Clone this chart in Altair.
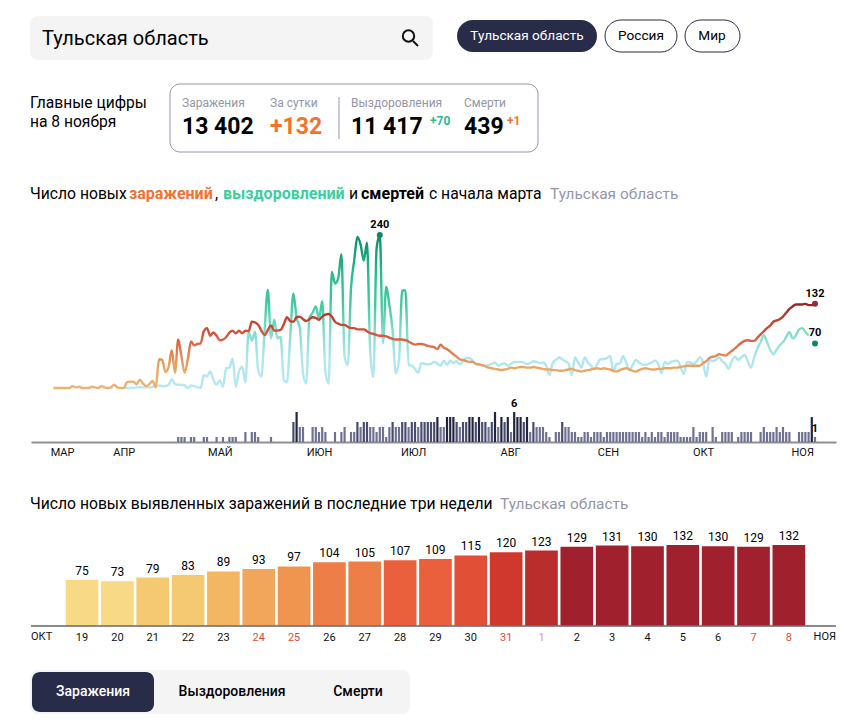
import altair as alt
import pandas as pd

FONT = "Roboto"
INK = "#000000"
NAVY = "#282c48"
GREY = "#9496a8"
PANEL = "#f4f4f4"

infections = [
    0,0,0,0,0,0,3,1,2,0,
    0,0,2,1,0,3,1,0,1,5,
    1,0,0,9,10,10,6,13,7,3,
    6,11,1,45,44,25,33,59,24,76,
    50,24,45,73,67,69,70,89,94,82,
    87,82,75,76,80,87,90,86,90,86,
    90,89,104,103,99,90,83,91,98,90,
    90,91,100,111,105,104,111,112,108,105,
    108,111,110,107,112,115,116,112,104,101,
    99,99,96,94,94,92,92,92,89,86,
    85,83,82,82,81,79,77,76,76,76,
    75,73,70,68,69,69,68,66,65,64,
    61,68,63,61,57,53,49,45,44,42,
    41,41,38,37,36,34,32,31,30,29,
    28,29,30,32,31,32,33,33,32,32,
    33,32,31,30,29,29,28,28,27,27,
    28,29,30,28,27,26,27,28,29,30,
    31,30,31,30,29,27,26,28,30,31,
    29,27,26,28,30,31,30,29,29,30,
    30,31,31,31,32,32,33,34,35,35,
    35,35,35,39,42,47,49,50,53,52,
    51,54,58,62,67,71,74,75,74,74,
    79,84,89,94,98,104,106,108,112,118,
    124,128,131,131,131,132,130,130,132,
]
recoveries_start = 22
recoveries = [
    0,0,0,0,1,1,1,1,
    1,2,3,4,3,3,5,14,6,5,
    5,4,0,4,3,1,0,20,18,26,
    13,5,12,2,31,32,46,2,26,33,
    9,88,74,88,27,18,90,154,78,107,
    78,80,12,9,80,148,110,95,23,7,
    109,118,128,109,136,25,7,182,164,172,
    210,49,36,156,200,237,225,200,228,57,
    17,219,240,70,159,130,90,23,44,153,
    153,36,35,30,24,39,38,37,38,41,
    38,35,43,36,43,39,42,37,42,47,
    47,43,38,37,35,35,36,38,40,35,
    37,39,35,38,41,41,41,40,37,39,
    42,41,39,40,35,20,39,44,48,45,
    42,38,20,48,40,32,48,40,35,30,
    38,45,45,47,50,26,38,38,50,40,
    28,36,44,40,37,36,38,40,43,38,
    23,41,38,41,42,43,33,22,41,40,
    38,42,48,40,18,44,42,44,48,42,
    38,30,42,49,44,48,52,42,32,48,
    62,72,83,72,60,53,60,67,72,80,
    88,78,82,92,94,88,82,
]
deaths = [
    0,0,0,0,0,0,0,0,0,0,
    0,0,0,0,0,0,0,0,0,0,
    0,0,0,0,0,0,0,0,0,0,
    0,0,0,0,0,0,0,0,0,1,
    1,1,0,1,1,0,0,1,1,0,
    0,1,0,1,0,1,1,1,0,0,
    2,0,2,2,1,0,0,0,1,0,
    0,0,0,0,0,4,6,3,3,0,
    0,3,3,2,3,2,0,0,2,0,
    2,3,0,2,2,4,3,4,4,3,
    3,2,3,3,1,3,4,3,3,4,
    4,3,4,4,3,4,4,4,4,4,
    5,3,3,5,5,5,4,3,4,4,
    5,5,4,5,4,4,3,4,6,3,
    5,4,5,2,6,5,5,4,5,2,
    4,3,3,3,2,1,0,2,2,4,
    3,3,2,2,1,1,2,2,1,2,
    2,2,1,2,2,2,2,2,2,2,
    2,2,2,2,1,2,1,2,1,2,
    2,1,2,2,2,2,1,1,1,1,
    3,1,2,2,2,0,3,1,0,2,
    2,2,2,0,1,2,2,2,2,0,
    0,2,3,2,2,2,3,2,3,2,
    2,0,0,2,2,2,2,5,1,
]
month_labels = ["МАР", "АПР", "МАЙ", "ИЮН", "ИЮЛ", "АВГ", "СЕН", "ОКТ", "НОЯ"]
month_ticks = [2.7, 22.0, 52.0, 83.0, 112.4, 142.7, 173.3, 203.0, 234.0]

recent_days = [19,20,21,22,23,24,25,26,27,28,29,30,31,1,2,3,4,5,6,7,8]
recent_values = [75,73,79,83,89,93,97,104,105,107,109,115,120,123,129,131,130,132,130,129,132]
holidays = [24,25,31,7,8]

def page_x(x):
    return x - 8

def label(text, x, y, size, color=INK, weight="normal", align="left", top=8):
    return (
        alt.Chart(alt.Data(values=[{"t": text}]))
        .mark_text(font=FONT, fontSize=size, color=color, fontWeight=weight, align=align, baseline="middle")
        .encode(x=alt.value(page_x(x)), y=alt.value(y - top), text="t:N")
    )

def box(x0, y0, x1, y1, fill, top, stroke=None, radius=8):
    kw = {"stroke": stroke, "strokeWidth": 1} if stroke else {}
    return (
        alt.Chart(alt.Data(values=[{}]))
        .mark_rect(fill=fill, cornerRadius=radius, **kw)
        .encode(x=alt.value(page_x(x0)), x2=alt.value(page_x(x1)), y=alt.value(y0 - top), y2=alt.value(y1 - top))
    )

# ---- header panel
T1 = 8
magnifier = (
    alt.Chart(alt.Data(values=[{}]))
    .mark_point(shape="circle", filled=False, size=130, stroke="#111111", strokeWidth=2, opacity=1)
    .encode(x=alt.value(page_x(408.5)), y=alt.value(36 - T1))
)
handle = (
    alt.Chart(alt.Data(values=[{}]))
    .mark_rule(stroke="#111111", strokeWidth=2)
    .encode(x=alt.value(page_x(413)), x2=alt.value(page_x(418)), y=alt.value(41 - T1), y2=alt.value(46 - T1))
)
divider = (
    alt.Chart(alt.Data(values=[{}]))
    .mark_rule(stroke=GREY, strokeWidth=1)
    .encode(x=alt.value(page_x(339)), y=alt.value(97 - T1), y2=alt.value(139 - T1))
)
header = alt.layer(
    box(30, 16, 433, 60, PANEL, T1),
    label("Тульская область", 42, 38.5, 20, top=T1),
    magnifier, handle,
    box(457, 20, 597, 52, NAVY, T1, radius=16),
    label("Тульская область", 527, 36, 13.6, "#ffffff", align="center", top=T1),
    box(605, 20, 677, 52, "#ffffff", T1, stroke=NAVY, radius=16),
    label("Россия", 641, 36, 13.6, align="center", top=T1),
    box(685, 20, 740, 52, "#ffffff", T1, stroke=NAVY, radius=16),
    label("Мир", 712, 36, 13.6, align="center", top=T1),
    label("Главные цифры", 30, 103, 15.6, top=T1),
    label("на 8 ноября", 30, 122, 15.6, top=T1),
    box(170, 84, 538, 152, "#ffffff", T1, stroke=GREY, radius=10),
    divider,
    label("Заражения", 182, 103, 12, GREY, top=T1),
    label("За сутки", 270, 103, 12, GREY, top=T1),
    label("Выздоровления", 351, 103, 12, GREY, top=T1),
    label("Смерти", 464, 103, 12, GREY, top=T1),
    label("13 402", 182, 127, 23, weight="bold", top=T1),
    label("+132", 270, 127, 23, "#f4722b", weight="bold", top=T1),
    label("11 417", 351, 127, 23, weight="bold", top=T1),
    label("+70", 430, 121, 12, "#2fb98f", weight="bold", top=T1),
    label("439", 464, 127, 23, weight="bold", top=T1),
    label("+1", 507, 121, 12, "#f4722b", weight="bold", top=T1),
    label("Число новых", 30, 194, 15.7, top=T1),
    label("заражений", 129, 194, 16, "#f4722b", weight="bold", top=T1),
    label(",", 215, 194, 16, top=T1),
    label("выздоровлений", 223, 194, 16, "#3ccf9f", weight="bold", top=T1),
    label("и", 349, 194, 15.7, top=T1),
    label("смертей", 361, 194, 16, weight="bold", top=T1),
    label("с начала марта", 429, 194, 15.7, top=T1),
    label("Тульская область", 550, 194, 15.4, GREY, top=T1),
).properties(width=830, height=205)

# ---- main chart
T2 = 213
inf_df = pd.DataFrame({"day": range(len(infections)), "value": infections})
rec_df = pd.DataFrame({"day": range(recoveries_start, recoveries_start + len(recoveries)), "value": recoveries})
dea_df = pd.DataFrame({"day": range(len(deaths)), "value": deaths})
dea_df = dea_df[dea_df.value > 0]

x_main = alt.Scale(domain=[-7, 244.5625], range=[23, 828], nice=False, zero=False, padding=0)
y_line = alt.Scale(domain=[0, 240], range=[388 - T2, 235 - T2], nice=False)
y_bar = alt.Scale(domain=[0, 6], range=[442 - T2, 412 - T2], nice=False)
x_plain = alt.X("day:Q", scale=x_main, axis=None)

inf_grad = alt.Gradient(
    gradient="linear", x1=0, x2=0, y1=1, y2=0,
    stops=[
        alt.GradientStop(offset=0, color="#ecb26f"),
        alt.GradientStop(offset=0.25, color="#eba563"),
        alt.GradientStop(offset=0.45, color="#e07a50"),
        alt.GradientStop(offset=0.68, color="#cf4f38"),
        alt.GradientStop(offset=0.83, color="#c0402f"),
        alt.GradientStop(offset=1, color="#902630"),
    ],
)
rec_grad = alt.Gradient(
    gradient="linear", x1=0, x2=0, y1=1, y2=0,
    stops=[
        alt.GradientStop(offset=0, color="#b5e8f2"),
        alt.GradientStop(offset=0.2, color="#aee6ef"),
        alt.GradientStop(offset=0.375, color="#7fdcc9"),
        alt.GradientStop(offset=0.54, color="#42cc9e"),
        alt.GradientStop(offset=0.75, color="#2dba8c"),
        alt.GradientStop(offset=1, color="#0a8a62"),
    ],
)
death_bars = alt.Chart(dea_df).mark_bar(size=2.2).encode(
    x=alt.X(
        "day:Q", scale=x_main, title=None,
        axis=alt.Axis(
            values=month_ticks, ticks=False, grid=False, labelFont=FONT, labelFontSize=11, labelColor="#111111",
            labelPadding=4, domainColor="#8e8e98", domainWidth=2, labelOverlap=False, labelFlush=False,
            labelExpr="[" + ",".join(f"'{m}'" for m in month_labels) + "][indexof(" + str(month_ticks) + ", datum.value)]",
        ),
    ),
    y=alt.Y("value:Q", scale=y_bar, axis=None),
    color=alt.Color("value:Q", legend=None, scale=alt.Scale(type="threshold", domain=[4, 5], range=["#6e7192", "#494c6e", "#22253f"])),
)
peak_deaths = dea_df[dea_df.day.isin([144, 238])]
death_labels = alt.Chart(peak_deaths).mark_text(font=FONT, fontSize=11, fontWeight="bold", color=INK, baseline="bottom", dy=-3).encode(
    x=x_plain, y=alt.Y("value:Q", scale=y_bar, axis=None), text="value:Q"
)
rec_line = alt.Chart(rec_df).mark_line(stroke=rec_grad, strokeWidth=2.4, interpolate="monotone", strokeJoin="round").encode(
    x=x_plain, y=alt.Y("value:Q", scale=y_line, axis=None)
)
inf_line = alt.Chart(inf_df).mark_line(stroke=inf_grad, strokeWidth=2.4, interpolate="monotone", strokeJoin="round").encode(
    x=x_plain, y=alt.Y("value:Q", scale=y_line, axis=None)
)
marks_df = pd.DataFrame({"day": [102, 238, 238], "value": [240, 132, 70], "kind": ["rec", "inf", "rec"]})
dots = alt.Chart(marks_df).mark_circle(size=36, opacity=1).encode(
    x=x_plain, y=alt.Y("value:Q", scale=y_line, axis=None),
    color=alt.Color("kind:N", legend=None, scale=alt.Scale(domain=["inf", "rec"], range=["#962a33", "#0a8a62"])),
)
dot_labels = alt.Chart(marks_df).mark_text(font=FONT, fontSize=11, fontWeight="bold", color=INK, baseline="bottom", dy=-5).encode(
    x=x_plain, y=alt.Y("value:Q", scale=y_line, axis=None), text="value:Q"
)
main = (
    alt.layer(death_bars, death_labels, rec_line, inf_line, dots, dot_labels)
    .resolve_scale(y="independent")
    .resolve_axis(x="independent")
    .properties(width=830, height=442 - T2)
)

# ---- title of lower chart
T3 = 442
title2 = alt.layer(
    label("Число новых выявленных заражений в последние три недели", 30, 504, 15.7, top=T3),
    label("Тульская область", 500, 504, 15.4, GREY, top=T3),
).properties(width=830, height=530 - T3)

# ---- bars
T4 = 530
bar_df = pd.DataFrame({"day": [str(d) for d in recent_days], "value": recent_values})
x_band = alt.Scale(domain=[str(d) for d in recent_days], range=[page_x(65.7), page_x(805.2)], paddingInner=0.075, paddingOuter=0.0)
y_recent = alt.Scale(domain=[0, 132], range=[626 - T4, 545 - T4], nice=False)
red_test = " || ".join(f"datum.value == '{d}'" for d in holidays)
recent_bars = alt.Chart(bar_df).mark_bar().encode(
    x=alt.X(
        "day:N", scale=x_band, title=None, sort=None,
        axis=alt.Axis(
            ticks=False, domain=False, grid=False, labelAngle=0, labelFont=FONT, labelFontSize=11, labelPadding=5,
            labelColor=alt.expr(f"datum.value == '1' ? '#e58fb0' : ({red_test}) ? '#e04a3a' : '#111111'"),
        ),
    ),
    y=alt.Y("value:Q", scale=y_recent, axis=None),
    color=alt.Color(
        "value:Q", legend=None,
        scale=alt.Scale(
            type="threshold",
            domain=[79, 89, 93, 97, 104, 107, 115, 120, 123, 129],
            range=["#f8d985", "#f5c872", "#f3b662", "#f2a65b", "#ef9550", "#ee7e48", "#ea5f3c", "#e14f36", "#d1382d", "#b92e2c", "#a0212d"],
        ),
    ),
)
recent_text = alt.Chart(bar_df).mark_text(font=FONT, fontSize=12, color=INK, baseline="bottom", dy=-2).encode(
    x=alt.X("day:N", scale=x_band, axis=None, sort=None),
    y=alt.Y("value:Q", scale=y_recent, axis=None),
    text="value:Q",
)
base_rule = (
    alt.Chart(alt.Data(values=[{}]))
    .mark_rule(stroke="#6e6e78", strokeWidth=2, opacity=0.8)
    .encode(x=alt.value(page_x(31)), x2=alt.value(page_x(836)), y=alt.value(626 - T4))
)
bars_panel = alt.layer(
    recent_bars, recent_text, base_rule,
    label("ОКТ", 31, 636.5, 11, "#111111", top=T4),
    label("НОЯ", 836, 636.5, 11, "#111111", align="right", top=T4),
).resolve_axis(x="independent").properties(width=830, height=626 - T4)

# ---- tabs
T5 = 626
tabs = alt.layer(
    box(30, 670, 410, 714, PANEL, T5),
    box(32, 672, 154, 712, NAVY, T5),
    label("Заражения", 93, 692, 14, "#ffffff", weight=500, align="center", top=T5),
    label("Выздоровления", 232, 692, 14, weight=500, align="center", top=T5),
    label("Смерти", 358, 692, 14, weight=500, align="center", top=T5),
).properties(width=830, height=720 - T5)

chart = (
    alt.vconcat(header, main, title2, bars_panel, tabs, spacing=0, bounds="flush")
    .resolve_scale(x="independent", y="independent", color="independent")
    .properties(padding=0, background="#ffffff")
    .configure_view(stroke=None)
)

chart.save("out.html", embed_options={"renderer": "svg", "actions": False})
